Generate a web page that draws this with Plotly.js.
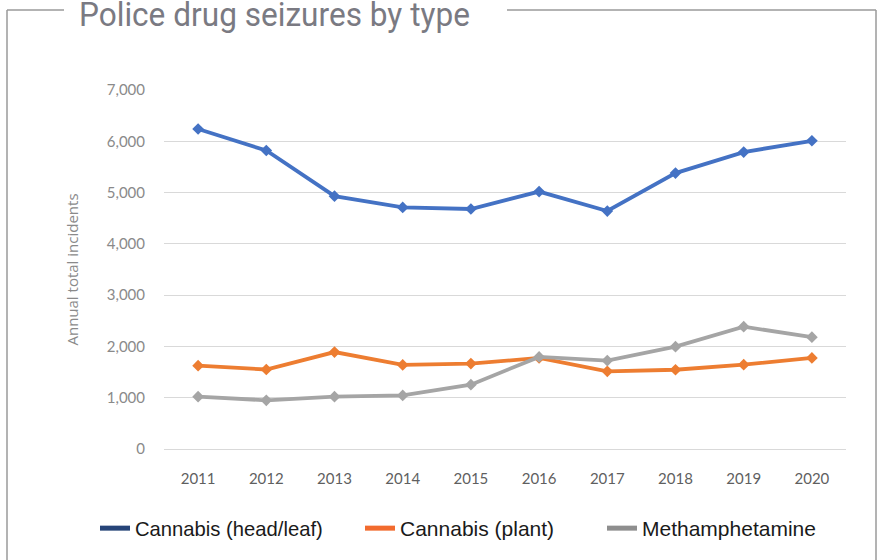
<!DOCTYPE html>
<html>
<head>
<meta charset="utf-8">
<script src="https://cdn.plot.ly/plotly-3.0.1.min.js"></script>
<style>
  html, body { margin: 0; padding: 0; background: #fff; }
  #chart { width: 882px; height: 560px; }
</style>
</head>
<body>
<div id="chart"></div>
<script>
// values
const years = ['2011', '2012', '2013', '2014', '2015', '2016', '2017', '2018', '2019', '2020'];
const headLeaf = [6240, 5820, 4930, 4710, 4680, 5020, 4640, 5380, 5790, 6010];
const plant = [1625, 1550, 1890, 1640, 1665, 1775, 1515, 1545, 1645, 1775];
const meth = [1020, 950, 1020, 1045, 1255, 1795, 1725, 1995, 2385, 2180];

const seriesNames = ['Cannabis (head/leaf)', 'Cannabis (plant)', 'Methamphetamine'];
const lineColors = ['#4472C4', '#ED7D31', '#A5A5A5'];
const legendColors = ['#264478', '#F26B2E', '#8E8E8E'];
const legendIds = ['legend', 'legend2', 'legend3'];
const legendX = [95, 360, 602];
const legendTextW = [188, 145, 169];

const L = 164, R = 36, T = 90, B = 111;
const W = 882, H = 560;
const pw = W - L - R, ph = H - T - B;
// pixel -> paper helpers for the frame
const px = x => (x - L) / pw;
const py = y => (H - B - y) / ph;

function lineTrace(y, i) {
  return {
    x: years, y: y, type: 'scatter', mode: 'lines+markers',
    name: seriesNames[i], showlegend: false,
    line: { color: lineColors[i], width: 3.8 },
    marker: { color: lineColors[i], size: 9, symbol: 'diamond' }
  };
}

function legendTrace(i) {
  return {
    x: [null], y: [null], type: 'scatter', mode: 'lines',
    name: seriesNames[i], legend: legendIds[i],
    line: { color: legendColors[i], width: 5 }
  };
}

function legendBox(i) {
  return {
    xref: 'container', yref: 'container',
    x: legendX[i] / W, xanchor: 'left',
    y: 1 - 508 / H, yanchor: 'top',
    orientation: 'h', bgcolor: 'rgba(0,0,0,0)',
    font: { family: '"Liberation Sans", Arial, sans-serif', size: 21, color: '#1a1a1a' }
  };
}

const data = [
  lineTrace(headLeaf, 0), lineTrace(plant, 1), lineTrace(meth, 2),
  legendTrace(0), legendTrace(1), legendTrace(2)
];

const frameColor = '#9a9a9a';
const layout = {
  width: W, height: H,
  margin: { l: L, r: R, t: T, b: B },
  paper_bgcolor: '#fff', plot_bgcolor: '#fff',
  title: {
    text: 'Police drug seizures by type',
    font: { family: 'Roboto, sans-serif', size: 33, color: '#7a7a82' },
    xref: 'container', x: 80 / W, xanchor: 'left',
    yref: 'container', y: 1 - 14 / H, yanchor: 'middle'
  },
  xaxis: {
    type: 'category', range: [-0.5, 9.5],
    showgrid: false, showline: false, ticks: '', ticklabelstandoff: 19,
    tickfont: { family: 'Lato, sans-serif', size: 15, color: '#5f5f5f' }
  },
  yaxis: {
    range: [0, 7000], dtick: 1000, tickformat: ',d',
    showgrid: true, gridcolor: '#d9d9d9', gridwidth: 1,
    zeroline: true, zerolinecolor: '#d9d9d9', zerolinewidth: 1,
    showline: false, ticks: '', ticklabelstandoff: 18,
    tickfont: { family: 'Lato, sans-serif', size: 15, color: '#8a8a8a' },
    title: {
      text: 'Annual total incidents', standoff: 24,
      font: { family: '"Open Sans", sans-serif', size: 15, color: '#8a8a8a' }
    }
  },
  legend: legendBox(0),
  legend2: legendBox(1),
  legend3: legendBox(2),
  shapes: [
    { type: 'line', xref: 'paper', yref: 'paper', x0: px(7), x1: px(7), y0: py(10), y1: py(565), line: { color: frameColor, width: 1.5 } },
    { type: 'line', xref: 'paper', yref: 'paper', x0: px(876), x1: px(876), y0: py(10), y1: py(565), line: { color: frameColor, width: 1.5 } },
    { type: 'line', xref: 'paper', yref: 'paper', x0: px(7), x1: px(64), y0: py(10), y1: py(10), line: { color: frameColor, width: 1.5 } },
    { type: 'line', xref: 'paper', yref: 'paper', x0: px(507), x1: px(876), y0: py(10), y1: py(10), line: { color: frameColor, width: 1.5 } }
  ]
};

// squeeze a text element horizontally so it spans `width` px from `left`
function squeeze(el, left, width) {
  const bb = el.getBBox();
  const s = width / bb.width;
  el.setAttribute('transform', `translate(${left - s * bb.x},0) scale(${s},1)`);
}

Plotly.newPlot('chart', data, layout, { displayModeBar: false, staticPlot: true }).then(gd => {
  // the original title and legend faces are condensed
  const title = gd.querySelector('.gtitle');
  if (title) squeeze(title, 79, 391);
  gd.querySelectorAll('.legendtext').forEach((t, i) => {
    squeeze(t, t.getBBox().x, legendTextW[i]);
  });
});
</script>
</body>
</html>
